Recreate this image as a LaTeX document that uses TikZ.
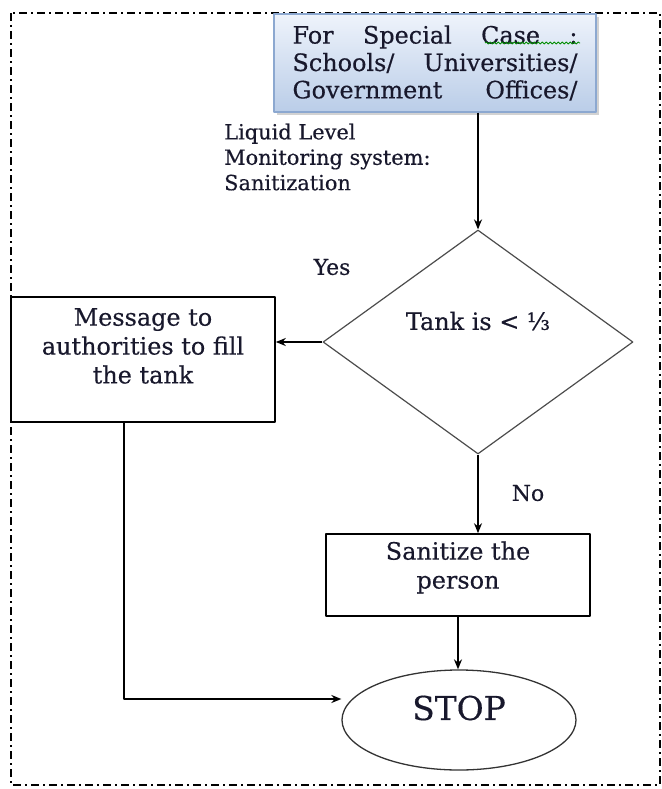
\documentclass[tikz,border=0pt]{standalone}
\usepackage{fontspec}
\setmainfont{DejaVu Serif}[FakeBold=0.4]
\usetikzlibrary{arrows.meta,shapes.geometric,shadows,decorations.pathmorphing}
\definecolor{casetop}{RGB}{238,243,251}
\definecolor{casebot}{RGB}{186,205,232}
\definecolor{caseline}{RGB}{140,168,208}
\definecolor{ink}{RGB}{24,24,44}
\newcommand\fullline[1]{\makebox[285bp][s]{#1}}
\begin{document}
\begin{tikzpicture}[>={Stealth[length=10bp,width=8bp]},line join=round,x=1bp,y=-1bp,text=ink,font=\fontsize{24}{29}\selectfont,
		flowbox/.style={draw,line width=1.6bp,inner sep=0pt,minimum width=264bp},
		flow/.style={->,line width=1.6bp}]
			\def \xmin{11}
			\def \xmax{660}
			\def \ymin{13}
			\def \ymax{785}
			\useasboundingbox (0,0) rectangle (662,789);
			\draw[line width=1.5bp,dash pattern=on 8bp off 4bp on 2bp off 4bp] (\xmin,\ymin) rectangle (\xmax,\ymax);
			% start box
			\node[draw=caseline,line width=1.2bp,top color=casetop,bottom color=casebot,minimum width=322bp,minimum height=98bp,inner sep=0pt,
				drop shadow={shadow xshift=2.5bp,shadow yshift=-3bp,fill=black!35},align=center,font=\fontsize{24}{27.5}\selectfont] (case) at (435,63)
				{\fullline{For Special Case :}\\\fullline{Schools/ Universities/}\\\fullline{Government Offices/}};
			\draw[green!55!black,line width=0.8bp,decorate,decoration={snake,amplitude=1bp,segment length=4bp}] (485,43)--(580,43);
			\node[align=left,anchor=west,inner sep=0pt,font=\fontsize{21}{25.5}\selectfont] (liq) at (224,157) {Liquid Level\\Monitoring system:\\Sanitization};
			% decision and actions
			\node[diamond,draw=black!70,line width=1.2bp,minimum width=310bp,minimum height=224bp,inner sep=0pt,
				label={[yshift=21bp]center:Tank is < ⅓}] (tank) at (478,342) {};
			\node[flowbox,minimum height=125bp,label={[align=center,yshift=13.5bp]center:{Message to\\authorities to fill\\the tank}}] (msg) at (143,359.5) {};
			\node[flowbox,minimum height=82bp,label={[align=center,yshift=7.5bp]center:{Sanitize the\\person}}] (san) at (458,575) {};
			\node[ellipse,draw=black!80,line width=1.3bp,minimum width=234bp,minimum height=100bp,inner sep=0pt,
				label={[yshift=12bp,font=\fontsize{33}{36}\selectfont]center:STOP}] (stop) at (459,720) {};
			\node[font=\fontsize{22}{26}\selectfont] (yes) at (332,267) {Yes};
			\node[font=\fontsize{22}{26}\selectfont] (no) at (528,493) {No};
			% connectors
			\draw[flow] (case.south -| tank.north)--(tank.north);
			\draw[flow] (tank.west)--(tank.west -| msg.east);
			\draw[flow] (tank.south)--(tank.south |- san.north);
			\draw[flow] (san.south)--(san.south |- stop.north);
			\draw[flow] ([xshift=-19bp]msg.south) |- ([yshift=21bp]stop.west);
	\end{tikzpicture}
\end{document}
